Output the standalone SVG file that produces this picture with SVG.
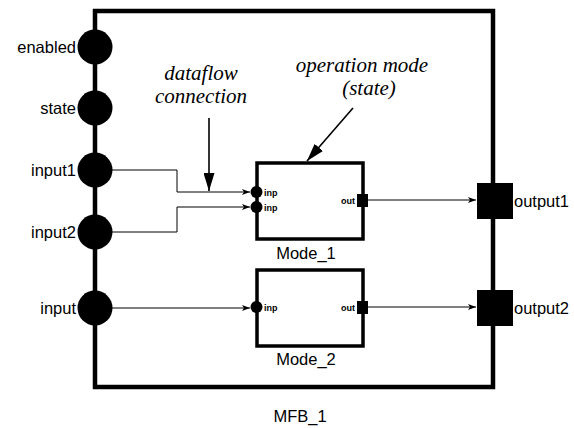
<svg xmlns="http://www.w3.org/2000/svg" width="574" height="428" viewBox="0 0 574 428">
<style>
.lbl{font-family:"Liberation Sans",Arial,sans-serif;font-size:16.5px;fill:#000}
.small{font-family:"Liberation Sans",Arial,sans-serif;font-size:9px;font-weight:bold;fill:#000}
.note{font-family:"Liberation Serif","Times New Roman",serif;font-size:21px;font-style:italic;fill:#000}
.conn{fill:none;stroke:#000;stroke-width:1}
.ann{fill:none;stroke:#000;stroke-width:1.6}
</style>
<defs>
<marker id="a" viewBox="0 0 8 6" refX="8" refY="3" markerWidth="8" markerHeight="6" markerUnits="userSpaceOnUse" orient="auto">
<path d="M0,0 L8,3 L0,6 L2,3 Z" fill="#000"/>
</marker>
<marker id="big" viewBox="0 0 18 11" refX="18" refY="5.5" markerWidth="18" markerHeight="11" markerUnits="userSpaceOnUse" orient="auto">
<path d="M0,0 L18,5.5 L0,11 Z" fill="#000"/>
</marker>
</defs>
<g id="MFB_1">
<rect x="95" y="11" width="398" height="376" fill="#fff" stroke="#000" stroke-width="4.5"/>
<text class="lbl" x="300" y="422" text-anchor="middle" font-size="18.5">MFB_1</text>
</g>
<g id="enabled"><circle cx="95" cy="47" r="17.5" fill="#000"/><text class="lbl" x="76" y="53" text-anchor="end">enabled</text></g>
<g id="state"><circle cx="95" cy="108" r="17.5" fill="#000"/><text class="lbl" x="76" y="114" text-anchor="end">state</text></g>
<g id="input1"><circle cx="95" cy="170" r="17.5" fill="#000"/><text class="lbl" x="76" y="176" text-anchor="end">input1</text></g>
<g id="input2"><circle cx="95" cy="232" r="17.5" fill="#000"/><text class="lbl" x="76" y="238" text-anchor="end">input2</text></g>
<g id="input"><circle cx="95" cy="308" r="17.5" fill="#000"/><text class="lbl" x="76" y="314" text-anchor="end">input</text></g>
<g id="output1"><rect x="477" y="183" width="36" height="36" fill="#000"/><text class="lbl" x="514" y="207">output1</text></g>
<g id="output2"><rect x="477" y="290" width="36" height="36" fill="#000"/><text class="lbl" x="514" y="314">output2</text></g>
<g id="Mode_1">
<rect x="257" y="163" width="106" height="76" fill="#fff" stroke="#000" stroke-width="3.5"/>
<circle cx="256.5" cy="192" r="6" fill="#000"/>
<circle cx="256.5" cy="207" r="6" fill="#000"/>
<text class="small" x="264" y="195.5">inp</text>
<text class="small" x="264" y="210.5">inp</text>
<rect x="357" y="194" width="11" height="13" fill="#000"/>
<text class="small" x="355" y="204" text-anchor="end">out</text>
<text class="lbl" x="306" y="259" text-anchor="middle">Mode_1</text>
</g>
<g id="Mode_2">
<rect x="257" y="270" width="106" height="76" fill="#fff" stroke="#000" stroke-width="3.5"/>
<circle cx="256.5" cy="307" r="6" fill="#000"/>
<text class="small" x="264" y="310.5">inp</text>
<rect x="357" y="301" width="11" height="13" fill="#000"/>
<text class="small" x="355" y="311" text-anchor="end">out</text>
<text class="lbl" x="306" y="365" text-anchor="middle">Mode_2</text>
</g>
<g id="connectors">
<polyline class="conn" points="112,170 177,170 177,192 250,192" marker-end="url(#a)"/>
<polyline class="conn" points="112,232 177,232 177,207 250,207" marker-end="url(#a)"/>
<line class="conn" x1="112" y1="308" x2="250" y2="308" marker-end="url(#a)"/>
<line class="conn" x1="368" y1="200" x2="476" y2="200" marker-end="url(#a)"/>
<line class="conn" x1="368" y1="307" x2="476" y2="307" marker-end="url(#a)"/>
</g>
<g id="annotations">
<text class="note" x="201" y="80" text-anchor="middle">dataflow</text>
<text class="note" x="201" y="103" text-anchor="middle">connection</text>
<line class="ann" x1="209" y1="118" x2="209" y2="191" marker-end="url(#big)"/>
<text class="note" x="362" y="72" text-anchor="middle">operation mode</text>
<text class="note" x="369" y="95" text-anchor="middle">(state)</text>
<line class="ann" x1="353" y1="108" x2="307" y2="161" marker-end="url(#big)"/>
</g>
</svg>
